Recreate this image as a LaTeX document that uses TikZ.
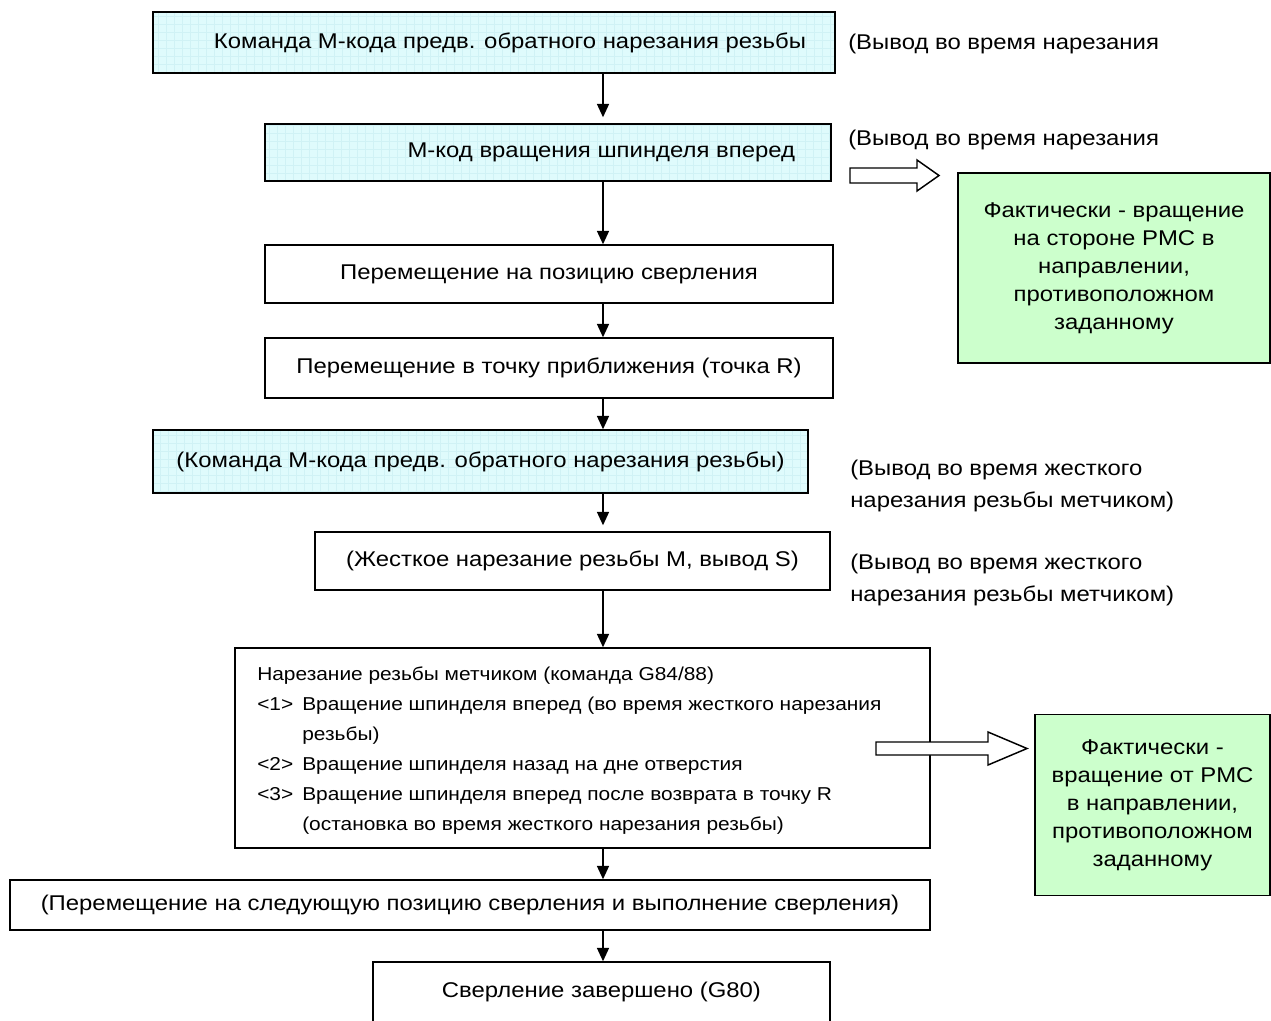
\documentclass[tikz,border=0pt]{standalone}
\usepackage{fontspec}
\setmainfont{Liberation Sans}[FakeStretch=1.12]
\usetikzlibrary{arrows, arrows.meta}

\definecolor{mcyan}{HTML}{DFFBFC}
\definecolor{mcyangrid}{HTML}{D0F2F5}
\definecolor{mgreen}{HTML}{CCFFCC}
\newcommand{\px}{0.75pt}
\newcommand{\tapitem}[1]{\makebox[33.75pt][l]{#1}}

\tikzstyle{box} = [rectangle, draw=black, line width=1.1pt, inner sep=0pt, text centered, font=\fontsize{16}{19}\selectfont]
\tikzstyle{mbox} = [box, fill=mcyan, path picture={\draw[mcyangrid, line width=0.3pt] (path picture bounding box.south west) grid[step=6pt] (path picture bounding box.north east);}]
\tikzstyle{note} = [box, fill=mgreen, align=center, font=\fontsize{16}{21}\selectfont]
\tikzstyle{outlabel} = [anchor=west, align=left, inner sep=0pt, font=\fontsize{16}{24}\selectfont]
\tikzstyle{arrow} = [line width=1.1pt, -{Triangle[length=10pt, width=9pt]}]
\tikzstyle{hollow} = [draw=black, line width=1.1pt, fill=white]

\begin{document}
\begin{tikzpicture}[x=0.75pt, y=-0.75pt]
    \useasboundingbox (0,0) rectangle (1271,1021);

        % Main sequence
        \node (cmdRev) [mbox, minimum width=682*\px, minimum height=61*\px] at (494,42.5) {\hspace*{24pt}Команда М-кода предв. обратного нарезания резьбы};
        \node (spindleFwd) [mbox, minimum width=566*\px, minimum height=57*\px] at (548,152.5) {\hspace*{80pt}М-код вращения шпинделя вперед};
        \node (moveHole) [box, minimum width=568*\px, minimum height=58*\px] at (549,274) {Перемещение на позицию сверления};
        \node (moveR) [box, minimum width=568*\px, minimum height=60*\px] at (549,368) {Перемещение в точку приближения (точка R)};
        \node (cmdRevR) [mbox, minimum width=655*\px, minimum height=63*\px] at (480.5,461.5) {(Команда М-кода предв. обратного нарезания резьбы)};
        \node (rigidTap) [box, minimum width=515*\px, minimum height=58*\px] at (572.5,561) {(Жесткое нарезание резьбы М, вывод S)};
        \node (tapCycle) [box, minimum width=695*\px, minimum height=200*\px] at (582.5,748) {};
        \node (moveNext) [box, minimum width=920*\px, minimum height=50*\px] at (470,905) {(Перемещение на следующую позицию сверления и выполнение сверления)};
        \node (drillEnd) [box, minimum width=457*\px, minimum height=60*\px] at (601.5,992) {Сверление завершено (G80)};

        % Text of the tapping cycle
        \node [anchor=north west, align=left, inner sep=0pt, font=\fontsize{14}{22.5}\selectfont] at (257,667) {%
            Нарезание резьбы метчиком (команда G84/88)\\
            \tapitem{<1>}Вращение шпинделя вперед (во время жесткого нарезания\\
            \tapitem{}резьбы)\\
            \tapitem{<2>}Вращение шпинделя назад на дне отверстия\\
            \tapitem{<3>}Вращение шпинделя вперед после возврата в точку R\\
            \tapitem{}(остановка во время жесткого нарезания резьбы)};

        % PMC notes
        \node (pmcNoteA) [note, minimum width=312*\px, minimum height=190*\px] at (1114,268) {Фактически - вращение\\на стороне PMC в\\направлении,\\противоположном\\заданному};
        \node (pmcNoteB) [note, minimum width=235*\px, minimum height=181*\px] at (1152.5,805) {Фактически -\\вращение от PMC\\в направлении,\\противоположном\\заданному};

        % Output remarks
        \node (outA) [outlabel] at (848,44) {(Вывод во время нарезания};
        \node (outB) [outlabel] at (848,140) {(Вывод во время нарезания};
        \node (outC) [outlabel] at (850,486) {(Вывод во время жесткого\\нарезания резьбы метчиком)};
        \node (outD) [outlabel] at (850,580) {(Вывод во время жесткого\\нарезания резьбы метчиком)};

        % Arrows
        \coordinate (spine) at (603,0);
        \draw [arrow] (cmdRev.south -| spine) -- ([yshift=6*\px]spindleFwd.north -| spine);
        \draw [arrow] (spindleFwd.south -| spine) -- (moveHole.north -| spine);
        \draw [arrow] (moveHole.south -| spine) -- (moveR.north -| spine);
        \draw [arrow] (moveR.south -| spine) -- (cmdRevR.north -| spine);
        \draw [arrow] (cmdRevR.south -| spine) -- ([yshift=6*\px]rigidTap.north -| spine);
        \draw [arrow] (rigidTap.south -| spine) -- (tapCycle.north -| spine);
        \draw [arrow] (tapCycle.south -| spine) -- (moveNext.north -| spine);
        \draw [arrow] (moveNext.south -| spine) -- (drillEnd.north -| spine);

        % Hollow arrows towards the notes
        \draw [hollow] (850,168) -- (917,168) -- (917,160) -- (939,175.5) -- (917,191) -- (917,183) -- (850,183) -- cycle;
        \draw [hollow] (876,742) -- (988,742) -- (988,732) -- (1027,748.5) -- (988,765) -- (988,755) -- (876,755) -- cycle;

\end{tikzpicture}
\end{document}
